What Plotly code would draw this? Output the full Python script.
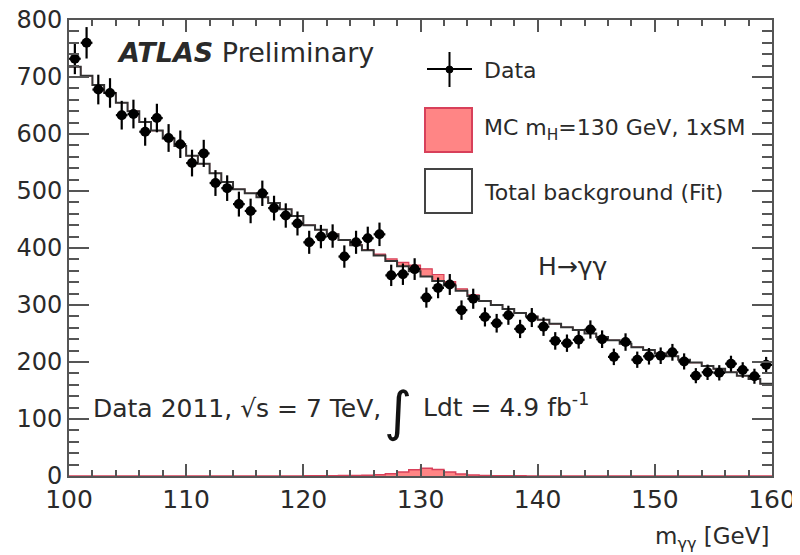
import numpy as np
import plotly.graph_objects as go

# ---------------- data ----------------
bin_low, bin_high, bin_width = 100.0, 160.0, 1.0
mass_centers = np.arange(bin_low + bin_width / 2, bin_high, bin_width)
bin_edges = np.arange(bin_low, bin_high + bin_width / 2, bin_width)

data_counts = [
    732, 760, 678, 672, 633, 635, 604, 628, 593, 582,
    549, 566, 514, 505, 477, 465, 496, 470, 457, 443,
    410, 420, 421, 385, 410, 417, 424, 352, 354, 363,
    313, 330, 336, 291, 311, 279, 268, 282, 258, 278,
    262, 237, 233, 239, 257, 240, 209, 235, 204, 210,
    211, 217, 201, 176, 182, 181, 197, 186, 175, 195,
]

background_fit = [
    718, 702, 686, 672, 655, 640, 621, 606, 592, 579,
    562, 548, 531, 516, 503, 496, 489, 479, 468, 456,
    440, 432, 424, 414, 405, 396, 387, 377, 368, 359,
    350, 342, 334, 325, 316, 307, 300, 293, 286, 280,
    274, 267, 261, 256, 250, 244, 238, 232, 226, 221,
    215, 210, 204, 199, 193, 188, 182, 176, 170, 162,
]

signal_mc = [
    0, 0, 0, 0, 0, 0, 0, 0, 0, 0,
    0, 0, 0, 0, 0, 0, 0, 0, 0, 0,
    0.3, 0.4, 0.6, 0.8, 1.0, 1.4, 2.2, 3.8, 6.8, 11.0,
    13.5, 11.5, 7.0, 3.5, 1.6, 0.9, 0.6, 0.4, 0.3, 0,
    0, 0, 0, 0, 0, 0, 0, 0, 0, 0,
    0, 0, 0, 0, 0, 0, 0, 0, 0, 0,
]

x_ticks = [100, 110, 120, 130, 140, 150, 160]
y_ticks = [0, 100, 200, 300, 400, 500, 600, 700, 800]

# ---------------- styling ----------------
FONT = "DejaVu Sans"
TXT = "#2a2a2a"
FRAME = "#555555"
SIG_FILL = "#ff8585"
SIG_LINE = "#d8405a"

OFF = 8                      # page body margin of the html page
W, H = 800 - OFF, 555 - OFF
PL, PR, PT, PB = 69, 772, 20, 476   # wanted plot area in screenshot pixels
L, R, T, B = PL - OFF, W - (PR - OFF), PT - OFF, H - (PB - OFF)


def px(x):
    return (x - OFF - L) / (W - L - R)


def py(y):
    return 1 - (y - OFF - T) / (H - T - B)


bg = np.array(background_fit, dtype=float)
sig = np.array(signal_mc, dtype=float)
dat = np.array(data_counts, dtype=float)


def step_y(v):
    return list(v) + [v[-1]]


fig = go.Figure()

# stacked signal on top of background
fig.add_trace(go.Scatter(
    x=bin_edges, y=step_y(bg + sig), mode="lines", line_shape="hv",
    line=dict(color=SIG_LINE, width=1.2), showlegend=False, hoverinfo="skip"))
fig.add_trace(go.Scatter(
    x=bin_edges, y=step_y(bg), mode="lines", line_shape="hv",
    fill="tonexty", fillcolor=SIG_FILL,
    line=dict(color="#333333", width=2), showlegend=False, hoverinfo="skip"))

# signal alone at the bottom
fig.add_trace(go.Scatter(
    x=bin_edges, y=step_y(sig), mode="lines", line_shape="hv",
    fill="tozeroy", fillcolor=SIG_FILL,
    line=dict(color=SIG_LINE, width=1.5), showlegend=False, hoverinfo="skip"))

# data points
fig.add_trace(go.Scatter(
    x=mass_centers, y=dat, mode="markers",
    marker=dict(symbol="circle", size=10, color="black"),
    error_y=dict(type="data", array=np.sqrt(dat), thickness=2.2, width=0, color="black"),
    error_x=dict(type="constant", value=bin_width / 2, thickness=2.2, width=0, color="black"),
    showlegend=False))

# ---------------- legend (drawn by hand) ----------------
shapes = [
    dict(type="line", xref="paper", yref="paper", x0=px(427), x1=px(472), y0=py(69), y1=py(69),
         line=dict(color="black", width=2)),
    dict(type="line", xref="paper", yref="paper", x0=px(449.5), x1=px(449.5), y0=py(52), y1=py(87),
         line=dict(color="black", width=2)),
    dict(type="circle", xref="paper", yref="paper", x0=px(446), x1=px(453), y0=py(66), y1=py(73),
         fillcolor="black", line=dict(color="black", width=1)),
    dict(type="rect", xref="paper", yref="paper", x0=px(425), x1=px(472), y0=py(108), y1=py(152),
         fillcolor=SIG_FILL, line=dict(color=SIG_LINE, width=2)),
    dict(type="rect", xref="paper", yref="paper", x0=px(425), x1=px(472), y0=py(169), y1=py(213),
         fillcolor="white", line=dict(color="#444444", width=2)),
]

annotations = [
    dict(text="Data", x=px(482), y=py(70)),
    dict(text="MC m<sub>H</sub>=130 GeV, 1xSM", x=px(482), y=py(129)),
    dict(text="Total background (Fit)", x=px(482), y=py(192)),
]
annotations = [dict(a, xref="paper", yref="paper", xanchor="left", yanchor="middle",
                    showarrow=False, font=dict(family=FONT, size=22, color=TXT)) for a in annotations]

annotations += [
    dict(text="<b><i>ATLAS</i></b> Preliminary", x=px(115), y=py(52), xref="paper", yref="paper",
         xanchor="left", yanchor="middle", showarrow=False, font=dict(family=FONT, size=27, color=TXT)),
    dict(text="H→γγ", x=px(536), y=py(266), xref="paper", yref="paper",
         xanchor="left", yanchor="middle", showarrow=False, font=dict(family=FONT, size=25, color=TXT)),
    dict(text="Data 2011, √s = 7 TeV,", x=px(91), y=py(408), xref="paper", yref="paper",
         xanchor="left", yanchor="middle", showarrow=False, font=dict(family=FONT, size=25, color=TXT)),
    dict(text="∫", x=px(398), y=py(411), xref="paper", yref="paper",
         xanchor="center", yanchor="middle", showarrow=False, font=dict(family=FONT, size=54, color="#111111")),
    dict(text="Ldt = 4.9 fb<sup>-1</sup>", x=px(421), y=py(405), xref="paper", yref="paper",
         xanchor="left", yanchor="middle", showarrow=False, font=dict(family=FONT, size=25, color=TXT)),
    dict(text="m<sub>γγ</sub> [GeV]", x=px(771), y=py(538), xref="paper", yref="paper",
         xanchor="right", yanchor="middle", showarrow=False, font=dict(family=FONT, size=23, color=TXT)),
]

fig.update_layout(
    width=W, height=H,
    margin=dict(l=L, r=R, t=T, b=B, autoexpand=False),
    paper_bgcolor="white", plot_bgcolor="white",
    showlegend=False,
    shapes=shapes, annotations=annotations,
    font=dict(family=FONT, color=TXT),
)

fig.update_xaxes(
    range=[bin_low, bin_high], tickvals=x_ticks, ticktext=[str(v) for v in x_ticks],
    ticks="inside", ticklen=12, tickwidth=1.5, tickcolor=FRAME,
    minor=dict(dtick=2, ticks="inside", ticklen=6, tickwidth=1.5, tickcolor=FRAME),
    showline=True, linecolor=FRAME, linewidth=2, mirror="ticks",
    showgrid=False, zeroline=False, automargin=False, ticklabeloverflow="allow",
    tickfont=dict(family=FONT, size=25, color=TXT),
)
fig.update_yaxes(
    range=[0, 800], tickvals=y_ticks, ticktext=[str(v) for v in y_ticks],
    ticks="inside", ticklen=20, tickwidth=1.5, tickcolor=FRAME,
    minor=dict(dtick=20, ticks="inside", ticklen=10, tickwidth=1.5, tickcolor=FRAME),
    showline=True, linecolor=FRAME, linewidth=2, mirror="ticks",
    showgrid=False, zeroline=False, automargin=False, ticklabeloverflow="allow",
    tickfont=dict(family=FONT, size=24, color=TXT),
)

fig.write_html("out.html")
